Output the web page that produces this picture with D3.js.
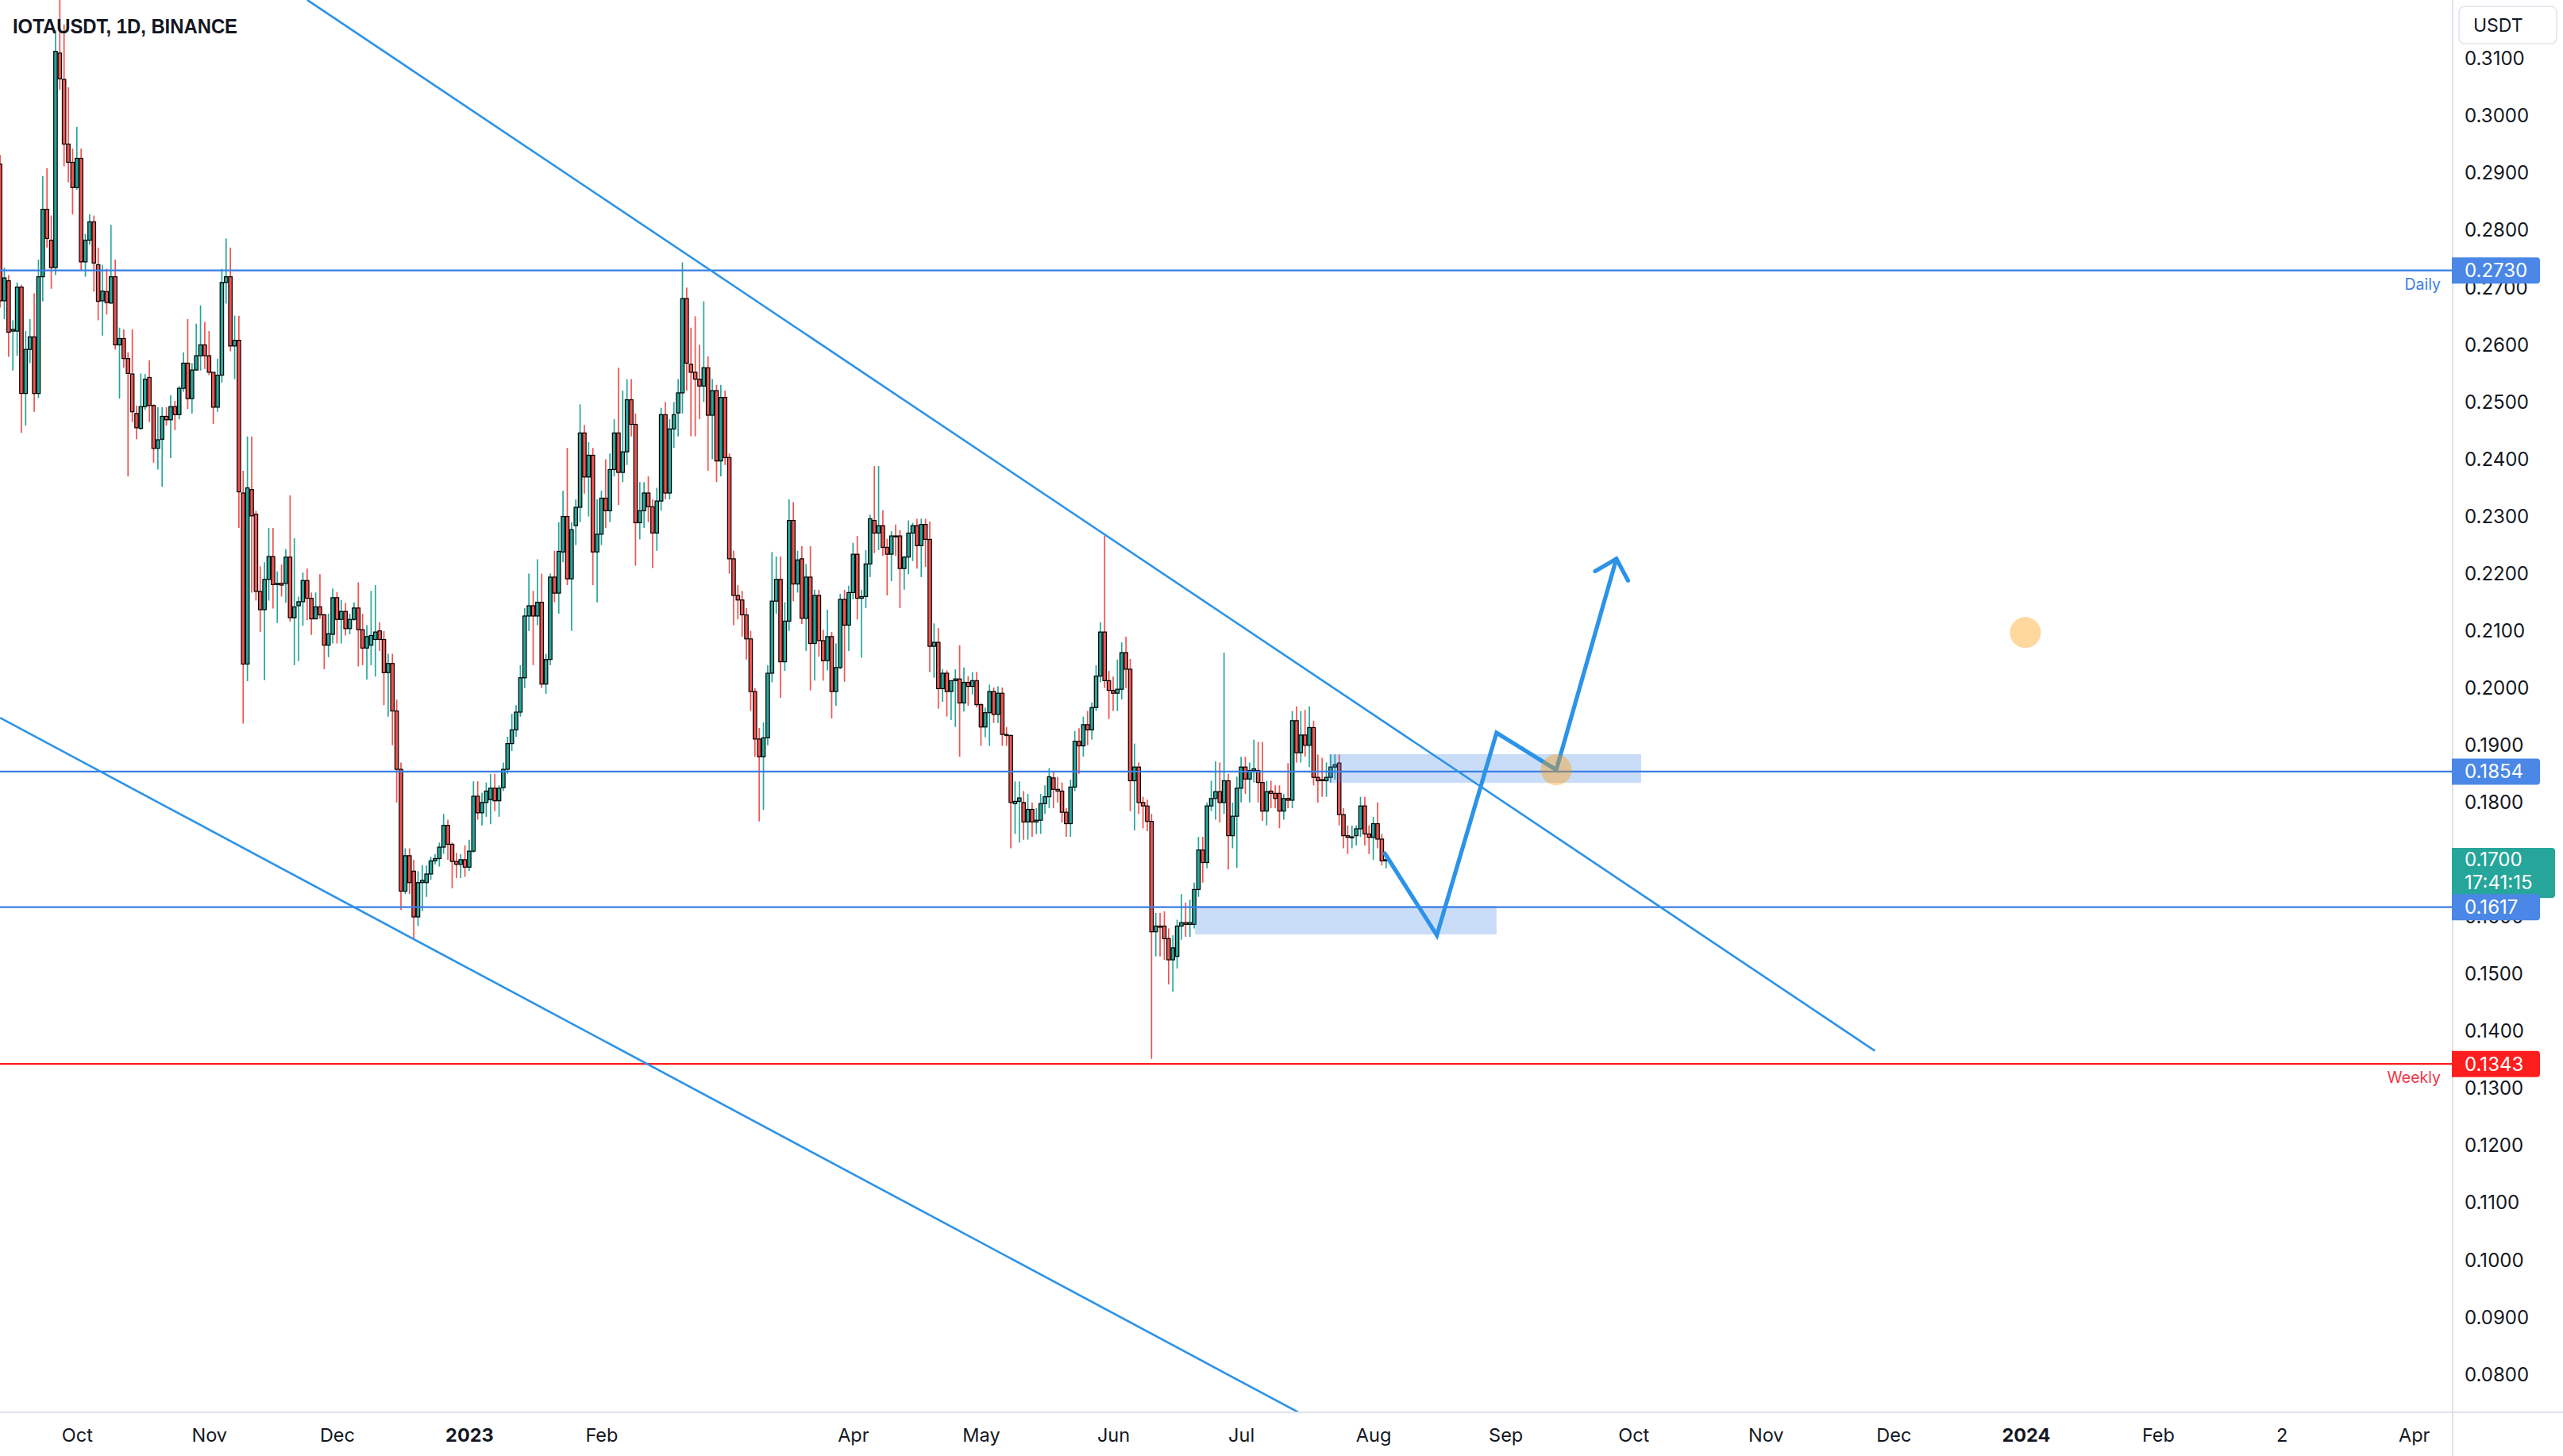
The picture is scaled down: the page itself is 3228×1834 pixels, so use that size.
<!DOCTYPE html>
<html><head><meta charset="utf-8">
<script src="https://cdn.jsdelivr.net/npm/d3@7"></script>
<style>html,body{margin:0;padding:0;background:#fff;}svg{display:block;}</style>
</head><body>
<svg id="chart" width="3228" height="1834"></svg>
<script>
// ---------------- DATA ----------------
const title = "IOTAUSDT, 1D, BINANCE";
const startDate = "2022-09-13"; // first daily candle
const opens = [
.2916,.2677,.2712,.2624,.2624,.2701,.2515,.2592,.2614,.2515,
.2719,.2837,.2783,.2735,.3110,.3064,.2951,.2919,.2875,.2926,
.2745,.2783,.2815,.2740,.2677,.2693,.2673,.2719,.2600,.2611,
.2576,.2549,.2480,.2454,.2492,.2543,.2494,.2419,.2435,.2475,
.2469,.2492,.2478,.2524,.2568,.2506,.2556,.2581,.2600,.2581,
.2552,.2491,.2547,.2709,.2719,.2598,.2608,.2341,.2042,.2347,
.2304,.2169,.2137,.2190,.2230,.2181,.2183,.2183,.2229,.2123,
.2144,.2151,.2188,.2157,.2121,.2142,.2128,.2075,.2094,.2158,
.2120,.2134,.2104,.2120,.2140,.2102,.2070,.2075,.2085,.2100,
.2085,.2027,.2043,.1960,.1858,.1645,.1707,.1680,.1600,.1660,
.1660,.1675,.1698,.1702,.1722,.1760,.1727,.1697,.1692,.1700,
.1687,.1715,.1811,.1782,.1800,.1805,.1825,.1803,.1826,.1858,
.1903,.1927,.1958,.2018,.2126,.2144,.2126,.2150,.2007,.2050,
.2194,.2166,.2238,.2300,.2191,.2284,.2316,.2446,.2369,.2407,
.2238,.2269,.2332,.2310,.2382,.2446,.2377,.2413,.2504,.2461,
.2289,.2310,.2341,.2317,.2271,.2327,.2478,.2341,.2453,.2481,
.2516,.2681,.2566,.2552,.2540,.2528,.2560,.2477,.2520,.2397,
.2508,.2403,.2226,.2162,.2154,.2128,.2086,.1994,.1911,.1880,
.1913,.2026,.2152,.2190,.2046,.2117,.2293,.2182,.2226,.2122,
.2194,.2078,.2162,.2083,.2048,.2090,.1994,.2036,.2155,.2110,
.2167,.2234,.2157,.2160,.2217,.2293,.2271,.2284,.2246,.2234,
.2266,.2266,.2209,.2229,.2271,.2284,.2249,.2286,.2260,.2073,
.2080,.1999,.2026,.1994,.2013,.2016,.1974,.2010,.2003,.2013,
.1971,.1932,.1957,.1994,.1954,.1991,.1919,.1917,.1798,.1802,
.1800,.1766,.1788,.1766,.1769,.1798,.1810,.1843,.1823,.1820,
.1783,.1763,.1827,.1907,.1899,.1936,.1927,.1966,.2021,.2098,
.2013,.1996,.1991,.1998,.2062,.2033,.1838,.1862,.1800,.1794,
.1767,.1574,.1584,.1584,.1562,.1525,.1531,.1584,.1590,.1587,
.1587,.1648,.1717,.1695,.1794,.1807,.1819,.1800,.1838,.1742,
.1776,.1825,.1862,.1841,.1856,.1856,.1835,.1785,.1820,.1816,
.1816,.1785,.1807,.1804,.1943,.1887,.1918,.1900,.1931,.1844,
.1840,.1838,.1844,.1862,.1869,.1779,.1742,.1739,.1742,.1754,
.1794,.1745,.1739,.1763,.1736,.1698];
const highs = [
.2932,.2735,.2722,.2643,.2709,.2705,.2624,.2645,.2690,.2749,
.2895,.2909,.2826,.3150,.3203,.3160,.3050,.2943,.2981,.2943,
.2794,.2828,.2826,.2770,.2740,.2733,.2810,.2749,.2630,.2627,
.2587,.2627,.2494,.2550,.2549,.2573,.2496,.2491,.2491,.2491,
.2512,.2502,.2528,.2587,.2645,.2568,.2637,.2669,.2640,.2624,
.2552,.2576,.2733,.2786,.2770,.2651,.2651,.2380,.2440,.2440,
.2310,.2213,.2220,.2280,.2280,.2204,.2216,.2243,.2337,.2262,
.2160,.2202,.2209,.2167,.2167,.2199,.2130,.2130,.2174,.2168,
.2154,.2149,.2130,.2150,.2185,.2130,.2110,.2170,.2180,.2115,
.2100,.2060,.2060,.1980,.1870,.1720,.1720,.1700,.1680,.1690,
.1690,.1705,.1710,.1730,.1780,.1770,.1730,.1712,.1710,.1725,
.1735,.1837,.1837,.1817,.1835,.1850,.1850,.1830,.1870,.1915,
.1955,.1970,.2040,.2140,.2200,.2170,.2225,.2200,.2060,.2200,
.2240,.2290,.2345,.2420,.2290,.2330,.2496,.2460,.2430,.2420,
.2330,.2345,.2400,.2410,.2470,.2560,.2520,.2540,.2540,.2480,
.2360,.2360,.2370,.2330,.2350,.2490,.2500,.2470,.2500,.2540,
.2744,.2700,.2630,.2650,.2600,.2676,.2580,.2540,.2530,.2530,
.2520,.2410,.2240,.2180,.2170,.2140,.2100,.2000,.1930,.1940,
.2040,.2238,.2230,.2230,.2150,.2330,.2325,.2240,.2248,.2217,
.2248,.2172,.2172,.2102,.2137,.2098,.2078,.2165,.2172,.2179,
.2254,.2266,.2172,.2241,.2303,.2388,.2388,.2311,.2261,.2274,
.2286,.2276,.2231,.2293,.2289,.2296,.2296,.2296,.2291,.2113,
.2105,.2033,.2031,.2013,.2033,.2075,.2036,.2021,.2028,.2028,
.1974,.1966,.2006,.2001,.2003,.2001,.1932,.1919,.1837,.1837,
.1820,.1815,.1800,.1790,.1815,.1830,.1860,.1855,.1845,.1835,
.1790,.1840,.1925,.1930,.1950,.1960,.1975,.2040,.2115,.2266,
.2030,.2020,.2050,.2080,.2090,.2051,.1903,.1870,.1810,.1805,
.1780,.1607,.1607,.1610,.1580,.1568,.1595,.1640,.1625,.1630,
.1660,.1740,.1740,.1800,.1838,.1872,.1870,.2062,.1850,.1800,
.1845,.1880,.1880,.1870,.1910,.1906,.1906,.1838,.1838,.1830,
.1830,.1815,.1869,.1960,.1968,.1960,.1962,.1968,.1943,.1884,
.1878,.1870,.1884,.1884,.1884,.1790,.1760,.1760,.1760,.1810,
.1810,.1760,.1775,.1800,.1745,.1710];
const lows = [
.2665,.2645,.2579,.2555,.2581,.2446,.2459,.2568,.2483,.2507,
.2676,.2770,.2698,.2722,.3046,.2912,.2884,.2828,.2871,.2730,
.2719,.2775,.2693,.2643,.2616,.2653,.2672,.2592,.2506,.2560,
.2370,.2465,.2435,.2451,.2486,.2465,.2394,.2382,.2352,.2459,
.2402,.2451,.2470,.2518,.2488,.2480,.2555,.2555,.2558,.2547,
.2462,.2483,.2534,.2672,.2589,.2540,.2280,.1938,.2012,.2167,
.2153,.2098,.2014,.2153,.2139,.2114,.2160,.2149,.2116,.2040,
.2047,.2109,.2119,.2093,.2121,.2121,.2033,.2054,.2078,.2078,
.2078,.2092,.2094,.2118,.2038,.2040,.2015,.2040,.2020,.2065,
.1970,.1950,.1900,.1800,.1612,.1640,.1640,.1560,.1584,.1610,
.1635,.1665,.1692,.1688,.1710,.1700,.1650,.1668,.1668,.1670,
.1680,.1712,.1770,.1760,.1775,.1762,.1785,.1775,.1820,.1850,
.1890,.1915,.1950,.2000,.2100,.2040,.2110,.2000,.1990,.2040,
.2150,.2130,.2220,.2180,.2100,.2250,.2290,.2340,.2300,.2180,
.2150,.2250,.2280,.2290,.2370,.2320,.2360,.2390,.2440,.2214,
.2260,.2280,.2290,.2210,.2240,.2310,.2330,.2330,.2420,.2440,
.2480,.2520,.2440,.2440,.2470,.2500,.2380,.2400,.2360,.2370,
.2390,.2200,.2110,.2120,.2090,.2050,.1960,.1880,.1767,.1787,
.1900,.2010,.2130,.1983,.2030,.2100,.2152,.2167,.2112,.2065,
.1996,.2013,.2055,.2013,.2031,.1947,.1969,.2033,.2011,.2065,
.2155,.2120,.2053,.2140,.2194,.2236,.2241,.2231,.2162,.2187,
.2231,.2140,.2172,.2199,.2222,.2209,.2194,.2212,.2028,.2018,
.1964,.1976,.1950,.1944,.1932,.1880,.1959,.1969,.1989,.1966,
.1899,.1914,.1899,.1939,.1939,.1899,.1899,.1720,.1745,.1730,
.1735,.1735,.1740,.1745,.1745,.1780,.1790,.1790,.1800,.1765,
.1740,.1740,.1820,.1850,.1880,.1900,.1910,.1960,.2010,.2000,
.1946,.1960,.1960,.1980,.2000,.1785,.1751,.1780,.1755,.1750,
.1352,.1531,.1531,.1525,.1482,.1469,.1510,.1560,.1565,.1565,
.1580,.1635,.1660,.1685,.1785,.1770,.1765,.1780,.1683,.1720,
.1686,.1800,.1815,.1800,.1835,.1800,.1768,.1760,.1790,.1790,
.1755,.1770,.1790,.1790,.1870,.1870,.1880,.1862,.1830,.1800,
.1810,.1810,.1835,.1840,.1760,.1720,.1710,.1720,.1725,.1740,
.1725,.1710,.1700,.1720,.1690,.1685];
const closes = [
.2677,.2717,.2622,.2627,.2701,.2515,.2592,.2614,.2515,.2719,
.2837,.2786,.2735,.3113,.3065,.2951,.2919,.2875,.2926,.2745,
.2783,.2815,.2743,.2676,.2694,.2674,.2719,.2600,.2611,.2576,
.2550,.2483,.2455,.2492,.2540,.2494,.2419,.2434,.2475,.2469,
.2492,.2478,.2524,.2568,.2506,.2556,.2581,.2600,.2581,.2552,
.2491,.2547,.2709,.2719,.2598,.2608,.2343,.2042,.2350,.2301,
.2169,.2137,.2190,.2230,.2181,.2183,.2180,.2229,.2123,.2142,
.2151,.2188,.2157,.2121,.2142,.2128,.2075,.2095,.2158,.2120,
.2134,.2104,.2120,.2140,.2102,.2070,.2090,.2092,.2098,.2085,
.2027,.2043,.1960,.1858,.1645,.1707,.1660,.1600,.1660,.1664,
.1675,.1698,.1702,.1722,.1760,.1727,.1697,.1692,.1700,.1687,
.1715,.1811,.1782,.1800,.1820,.1825,.1803,.1825,.1858,.1903,
.1927,.1958,.2018,.2126,.2144,.2126,.2150,.2007,.2050,.2194,
.2166,.2239,.2300,.2191,.2277,.2316,.2446,.2369,.2407,.2238,
.2269,.2332,.2310,.2382,.2446,.2377,.2413,.2504,.2461,.2289,
.2310,.2341,.2317,.2271,.2327,.2478,.2341,.2453,.2478,.2516,
.2681,.2568,.2552,.2540,.2528,.2560,.2477,.2520,.2397,.2508,
.2403,.2226,.2162,.2154,.2128,.2086,.1994,.1911,.1880,.1913,
.2026,.2152,.2190,.2046,.2117,.2293,.2182,.2224,.2122,.2194,
.2078,.2162,.2083,.2048,.2090,.1994,.2036,.2155,.2110,.2167,
.2234,.2157,.2160,.2217,.2296,.2271,.2284,.2246,.2234,.2266,
.2265,.2209,.2229,.2271,.2284,.2249,.2286,.2260,.2073,.2080,
.1999,.2026,.1994,.2013,.2016,.1974,.2010,.2003,.2013,.1971,
.1932,.1957,.1994,.1954,.1991,.1919,.1917,.1800,.1802,.1808,
.1766,.1788,.1766,.1769,.1798,.1810,.1845,.1823,.1820,.1783,
.1763,.1827,.1907,.1899,.1936,.1927,.1966,.2021,.2098,.2013,
.1996,.1991,.1998,.2062,.2033,.1838,.1862,.1800,.1794,.1767,
.1574,.1584,.1582,.1562,.1525,.1546,.1584,.1590,.1587,.1590,
.1648,.1717,.1695,.1794,.1807,.1819,.1800,.1838,.1742,.1776,
.1825,.1862,.1841,.1856,.1859,.1835,.1785,.1819,.1816,.1807,
.1785,.1807,.1804,.1943,.1887,.1918,.1900,.1931,.1844,.1838,
.1838,.1844,.1862,.1866,.1779,.1742,.1739,.1740,.1754,.1794,
.1745,.1739,.1763,.1736,.1698,.1700];

const priceTicks = [0.31,0.30,0.29,0.28,0.27,0.26,0.25,0.24,0.23,0.22,0.21,0.20,0.19,0.18,0.17,0.16,0.15,0.14,0.13,0.12,0.11,0.10,0.09,0.08];
const timeTickDates = ["2022-10-01","2022-11-01","2022-12-01","2023-01-01","2023-02-01","2023-04-01","2023-05-01","2023-06-01","2023-07-01","2023-08-01","2023-09-01","2023-10-01","2023-11-01","2023-12-01","2024-01-01","2024-02-01","2024-03-01","2024-04-01"];
const timeTickLabels = ["Oct","Nov","Dec","2023","Feb","Apr","May","Jun","Jul","Aug","Sep","Oct","Nov","Dec","2024","Feb","2","Apr"];

const levelPrices = [0.2730, 0.1854, 0.1617, 0.1343];
const levelTags = ["Daily", "", "", "Weekly"];
const lastPrice = 0.1700;
const countdown = "17:41:15";
const currency = "USDT";

// drawings, x = days after 2022-10-01
const trendUpper = [[54.0, 0.3203], [421.6, 0.1366]];
const trendLower = [[-18.0, 0.1948], [300.0, 0.0680]];
const zoneUpper = [293.6, 366.8, 0.18845, 0.18345];
const zoneLower = [262.2, 332.9, 0.16194, 0.15694];
const projection = [[306.7,0.1711],[318.9,0.1568],[332.9,0.1922],[346.9,0.1857],[361.0,0.2226]];
const markers = [[456.9, 0.2097], [346.9, 0.1857]];

// ---------------- CHART ----------------
const W = 3228, H = 1834, plotR = 3088, plotB = 1778;
const DAY = 86400000;
const base = Date.UTC(2022, 9, 1);
const dateOf = d => new Date(base + d * DAY);
const startOff = Math.round((Date.parse(startDate) - base) / DAY);

const x = d3.scaleUtc().domain([dateOf(-18.02), dateOf(556.9)]).range([0, plotR]);
const y = d3.scaleLinear().domain([0.07354, 0.32028]).range([plotB, 0]);
const X = d => x(dateOf(d));

const UP = "#26a69a", DOWN = "#ef5350";
const BLUE_LINE = "#3a7ee4", BLUE_LABEL = "#4a87e6", RED = "#ff1e1e", TREND = "#2c93e8";
const FONT = "Inter, 'Noto Sans', sans-serif";

const svg = d3.select("#chart");
svg.append("rect").attr("width", W).attr("height", H).attr("fill", "#fff");
svg.append("defs").append("clipPath").attr("id", "plotclip")
  .append("rect").attr("x", 0).attr("y", 0).attr("width", plotR).attr("height", plotB);

const plot = svg.append("g").attr("clip-path", "url(#plotclip)");

// candles
const candles = opens.map((o, i) => ({d: i + startOff, o, h: highs[i], l: lows[i], c: closes[i]}));
const bw = 4.4;
const cg = plot.append("g");
cg.selectAll("line.wick").data(candles).join("line")
  .attr("x1", c => X(c.d)).attr("x2", c => X(c.d))
  .attr("y1", c => y(Math.max(c.h, c.o, c.c))).attr("y2", c => y(Math.min(c.l, c.o, c.c)))
  .attr("stroke", c => c.c >= c.o ? UP : DOWN).attr("stroke-width", 1.7);
cg.selectAll("rect.body").data(candles).join("rect")
  .attr("x", c => X(c.d) - bw / 2).attr("width", bw)
  .attr("y", c => y(Math.max(c.o, c.c)))
  .attr("height", c => Math.max(1.2, Math.abs(y(c.o) - y(c.c))))
  .attr("fill", c => c.c >= c.o ? UP : DOWN)
  .attr("stroke", "#000").attr("stroke-width", 1.2);

// zones
const zoneFill = "rgba(60,130,228,0.27)";
[zoneUpper, zoneLower].forEach(z => {
  plot.append("rect").attr("x", X(z[0])).attr("width", X(z[1]) - X(z[0]))
    .attr("y", y(z[2])).attr("height", y(z[3]) - y(z[2])).attr("fill", zoneFill);
});

// horizontal levels
levelPrices.forEach((p, i) => {
  plot.append("line").attr("x1", 0).attr("x2", plotR).attr("y1", y(p)).attr("y2", y(p))
    .attr("stroke", i === 3 ? RED : BLUE_LINE).attr("stroke-width", 2.2);
});

// trendlines
const line = d3.line().x(p => X(p[0])).y(p => y(p[1]));
[trendUpper, trendLower].forEach(t => {
  plot.append("path").attr("d", line(t)).attr("fill", "none")
    .attr("stroke", TREND).attr("stroke-width", 2.6);
});

// projection path
plot.append("path").attr("d", line(projection)).attr("fill", "none")
  .attr("stroke", TREND).attr("stroke-width", 5.2).attr("stroke-linejoin", "miter").attr("stroke-linecap", "round");
{
  const a = projection[projection.length - 2], b = projection[projection.length - 1];
  const bx = X(b[0]), by = y(b[1]), ax = X(a[0]), ay = y(a[1]);
  const ang = Math.atan2(ay - by, ax - bx);
  const L = 31, spread = 44 * Math.PI / 180;
  const pts = [ang - spread, ang + spread].map(t => [bx + L * Math.cos(t), by + L * Math.sin(t)]);
  plot.append("path").attr("d", `M${pts[0][0]},${pts[0][1]}L${bx},${by}L${pts[1][0]},${pts[1][1]}`)
    .attr("fill", "none").attr("stroke", TREND).attr("stroke-width", 5.2)
    .attr("stroke-linejoin", "miter").attr("stroke-linecap", "round");
}

// markers
plot.selectAll("circle.mk").data(markers).join("circle")
  .attr("cx", m => X(m[0])).attr("cy", m => y(m[1])).attr("r", 19.5)
  .attr("fill", "rgba(255,152,0,0.38)");

// level tags (Daily / Weekly)
levelTags.forEach((t, i) => {
  if (!t) return;
  svg.append("text").attr("x", 3074).attr("y", y(levelPrices[i]) + 24)
    .attr("text-anchor", "end").attr("font-family", FONT).attr("font-size", 19.5)
    .attr("fill", i === 3 ? "#f23645" : "#3a7ee4").text(t);
});

// title
svg.append("text").attr("x", 16).attr("y", 41.5)
  .attr("font-family", "'Liberation Sans', Arial, sans-serif").attr("font-weight", "bold")
  .attr("font-size", 25.5).attr("fill", "#131722")
  .attr("textLength", 283).attr("lengthAdjust", "spacingAndGlyphs").text(title);

// axes backgrounds + borders
svg.append("rect").attr("x", plotR).attr("y", 0).attr("width", W - plotR).attr("height", H).attr("fill", "#fff");
svg.append("rect").attr("x", 0).attr("y", plotB).attr("width", plotR).attr("height", H - plotB).attr("fill", "#fff");
svg.append("line").attr("x1", plotR + 1).attr("x2", plotR + 1).attr("y1", 0).attr("y2", H)
  .attr("stroke", "#e0e3eb").attr("stroke-width", 2);
svg.append("line").attr("x1", 0).attr("x2", W).attr("y1", plotB + 1).attr("y2", plotB + 1)
  .attr("stroke", "#e0e3eb").attr("stroke-width", 2);

// price axis
const yAxis = d3.axisRight(y).tickValues(priceTicks).tickFormat(d3.format(".4f")).tickSize(0).tickPadding(16);
const gy = svg.append("g").attr("transform", `translate(${plotR},0)`).call(yAxis);
gy.select(".domain").remove();
gy.selectAll("text").attr("font-family", FONT).attr("font-size", 24).attr("fill", "#131722");

// time axis
const tDates = timeTickDates.map(s => new Date(s + "T00:00:00Z"));
const xAxis = d3.axisBottom(x).tickValues(tDates).tickSize(0).tickPadding(21)
  .tickFormat((d, i) => timeTickLabels[i]);
const gx = svg.append("g").attr("transform", `translate(0,${plotB})`).call(xAxis);
gx.select(".domain").remove();
gx.selectAll("text").attr("font-family", FONT).attr("font-size", 23.5).attr("fill", "#131722")
  .attr("font-weight", (d, i) => /^\d{4}$/.test(timeTickLabels[i]) ? "bold" : "normal");

// currency box
svg.append("rect").attr("x", 3097).attr("y", 8).attr("width", 123).attr("height", 47).attr("rx", 7)
  .attr("fill", "#fff").attr("stroke", "#e0e3eb").attr("stroke-width", 1.5);
svg.append("text").attr("x", 3115).attr("y", 40).attr("font-family", FONT).attr("font-size", 23)
  .attr("fill", "#131722").text(currency);

// last price box
{
  const yy = y(lastPrice);
  svg.append("path").attr("d", `M${plotR},${yy - 15}h126a4,4 0 0 1 4,4v55a4,4 0 0 1 -4,4h-126z`).attr("fill", UP);
  svg.append("text").attr("x", 3104).attr("y", yy + 8).attr("font-family", FONT).attr("font-size", 24)
    .attr("fill", "#fff").text(d3.format(".4f")(lastPrice));
  svg.append("text").attr("x", 3104).attr("y", yy + 37).attr("font-family", FONT).attr("font-size", 24)
    .attr("fill", "#fff").text(countdown);
}

// level labels
levelPrices.forEach((p, i) => {
  const yy = y(p);
  svg.append("path").attr("d", `M${plotR},${yy - 16.5}h107a4,4 0 0 1 4,4v25a4,4 0 0 1 -4,4h-107z`)
    .attr("fill", i === 3 ? RED : BLUE_LABEL);
  svg.append("text").attr("x", 3104).attr("y", yy + 8.5).attr("font-family", FONT).attr("font-size", 24)
    .attr("fill", "#fff").text(d3.format(".4f")(p));
});
</script>
</body></html>
